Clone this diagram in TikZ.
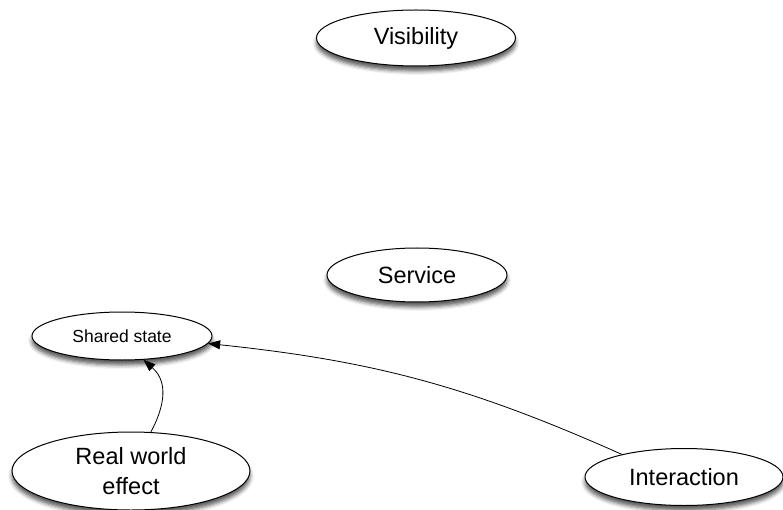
\documentclass[tikz,border=0pt]{standalone}
\usepackage{fontspec}
\setmainfont{Liberation Sans}
\usetikzlibrary{shapes.geometric,shadows.blur,arrows.meta}
\begin{document}
\begin{tikzpicture}[x=1pt, y=-1pt,
		bulle/.style={ellipse, draw, line width=1pt, fill=white, inner sep=0pt,
			blur shadow={shadow xshift=0pt, shadow yshift=-5pt, shadow blur radius=4pt, shadow opacity=65},
			font=\fontsize{23.5}{30}\selectfont, align=center},
		fleche/.style={-{Triangle[length=12pt,width=9pt]}, line width=0.8pt}]
	% Cadre
	\useasboundingbox	(0,0)	rectangle	(783,510)	;
	% Ellipses
	\node [bulle, minimum width=199pt, minimum height=56pt]	(vis)	at (416, 38)	{Visibility}	;
	\node [bulle, minimum width=180pt, minimum height=54pt]	(serv)	at (417, 275)	{Service}	;
	\node [bulle, minimum width=180pt, minimum height=48pt, font=\fontsize{17.5}{20}\selectfont]
																(etat)	at (122, 336)	{Shared state}	;
	\node [bulle, minimum width=238pt, minimum height=78pt]	(effet)	at (131, 471)	{Real world\\effect}	;
	\node [bulle, minimum width=198pt, minimum height=57pt]	(inter)	at (684, 477)	{Interaction}	;
	% Fleches
	\draw [fleche]	(inter.160)	to [bend right=9]	(etat.-5)	;
	\draw [fleche]	(effet.63)	.. controls (160, 415) and (172, 385) ..	(etat.-48)	;
\end{tikzpicture}
\end{document}
